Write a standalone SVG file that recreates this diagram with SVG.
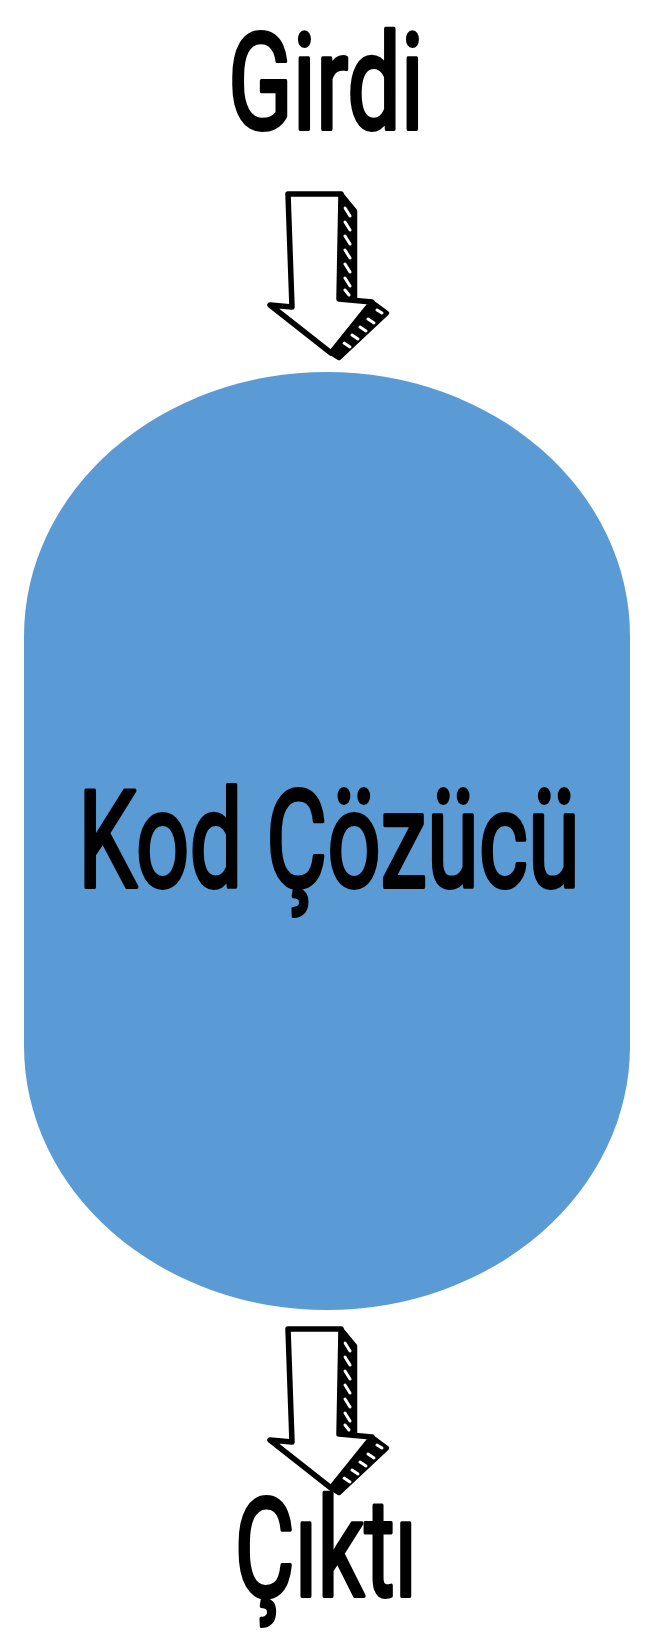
<svg xmlns="http://www.w3.org/2000/svg" width="656" height="1646" viewBox="0 0 656 1646">
<defs>
<style>
.lbl{font-family:Roboto,"Noto Sans","DejaVu Sans",sans-serif;fill:#000;stroke:#000;stroke-width:4;stroke-linejoin:round}
.face{fill:#fff;stroke:#000;stroke-width:5.5;stroke-linejoin:round;stroke-linecap:round}
.side{fill:#000;stroke:#000;stroke-width:4.5;stroke-linejoin:round}
.hatch{stroke:#fff;stroke-width:3;stroke-linecap:round;fill:none}
</style>
<g id="arrowShape">
<path class="side" d="M341,194 L355,211 L355,299 L339,299 Z"/>
<path class="hatch" d="M345,208 L350,216 M345,222 L350,230 M345,236 L350,244 M345,250 L350,258 M345,264 L350,272 M345,278 L350,286 M345,290 L349,295"/>
<path class="side" d="M372,302 L387,313 L339,358 L331,353 Z"/>
<path class="hatch" d="M377,310 L382,313 M368,319 L374,323 M360,327 L366,331 M352,335 L358,339 M344,343 L350,347"/>
<path class="face" d="M288,194 L341,194 L339,299 L372,302 L331,353 L270,305 L292,307 Z"/>
</g>
</defs>
<rect width="656" height="1646" fill="#fff"/>
<g id="connectors">
<use id="arrow-in" href="#arrowShape"/>
<use id="arrow-out" href="#arrowShape" transform="translate(0,1135)"/>
</g>
<g id="node-girdi">
<text class="lbl" x="326" y="129" font-size="134" text-anchor="middle" textLength="196" lengthAdjust="spacingAndGlyphs">Girdi</text>
</g>
<g id="node-kodcozucu">
<rect x="24" y="372" width="606" height="938" rx="303" ry="264" fill="#5B9BD5"/>
<text class="lbl" x="329" y="887" font-size="136" text-anchor="middle" textLength="502" lengthAdjust="spacingAndGlyphs">Kod Çözücü</text>
</g>
<g id="node-cikti">
<text class="lbl" x="326" y="1596" font-size="138" text-anchor="middle" textLength="183" lengthAdjust="spacingAndGlyphs">Çıktı</text>
</g>
</svg>
